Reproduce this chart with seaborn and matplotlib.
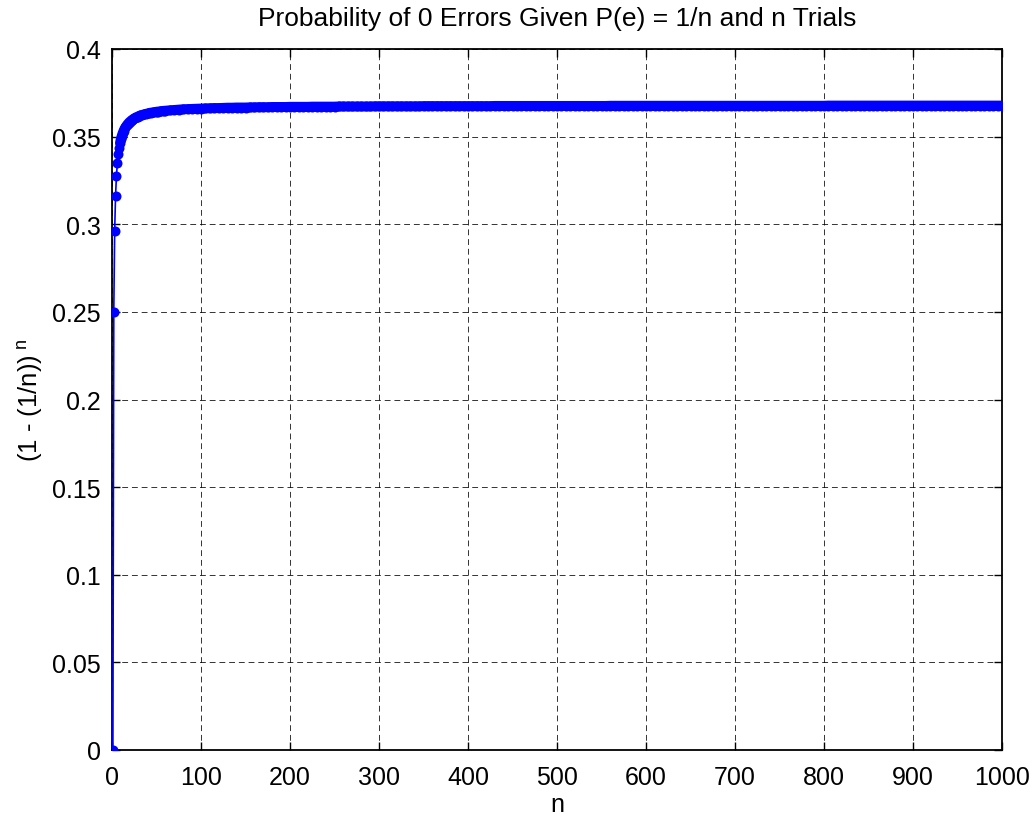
import matplotlib
matplotlib.use("Agg")
import matplotlib.pyplot as plt
import seaborn as sns
import pandas as pd

# ---- data ----
n_values = [
    1, 2, 3, 4, 5, 6, 7, 8, 9, 10, 11, 12, 13, 14, 15, 16, 17, 18, 19, 20,
    21, 22, 23, 24, 25, 26, 27, 28, 29, 30,
    32, 34, 36, 38, 40, 42, 44, 46, 48, 50, 52, 54, 56, 58, 60,
    65, 70, 75, 80, 85, 90, 95, 100, 105, 110, 115, 120, 125, 130, 135, 140, 145, 150, 155, 160,
    165, 170, 175, 180, 185, 190, 195, 200, 205, 210, 215, 220, 225, 230, 235, 240, 245, 250,
    255, 260, 265, 270, 275, 280, 285, 290, 295, 300, 305, 310, 315, 320, 325, 330, 335, 340, 345,
    350, 355, 360, 365, 370, 375, 380, 385, 390, 395, 400, 405, 410, 415, 420, 425,
    430, 435, 440, 445, 450, 455, 460, 465, 470, 475, 480, 485, 490, 495, 500, 505, 510, 515, 520,
    525, 530, 535, 540, 545, 550, 555,
    560, 565, 570, 575, 580, 585, 590, 595, 600, 605, 610, 615, 620, 625, 630, 635, 640, 645, 650,
    655, 660, 665, 670, 675, 680, 685, 690, 695, 700, 705, 710, 715, 720, 725, 730, 735, 740, 745,
    750, 755, 760, 765, 770, 775, 780, 785, 790, 795, 800,
    805, 810, 815, 820, 825, 830, 835, 840, 845, 850, 855, 860, 865, 870, 875, 880, 885, 890, 895,
    900, 905, 910, 915, 920, 925, 930, 935, 940, 945, 950, 955, 960, 965, 970, 975, 980, 985, 990,
    995, 1000,
]

p_zero_errors = [
    0.0000, 0.2500, 0.2963, 0.3164, 0.3277, 0.3349, 0.3399, 0.3436, 0.3464, 0.3487,
    0.3505, 0.3520, 0.3533, 0.3543, 0.3553, 0.3561, 0.3568, 0.3574, 0.3580, 0.3585,
    0.3589, 0.3594, 0.3597, 0.3601, 0.3604, 0.3607, 0.3610, 0.3612, 0.3614, 0.3617,
    0.3621, 0.3624, 0.3627, 0.3630, 0.3632, 0.3635, 0.3637, 0.3638, 0.3640, 0.3642,
    0.3643, 0.3644, 0.3646, 0.3647, 0.3648,
    0.3650, 0.3652, 0.3654, 0.3656, 0.3657, 0.3658, 0.3659, 0.3660, 0.3661, 0.3662,
    0.3663, 0.3663, 0.3664, 0.3665, 0.3665, 0.3666, 0.3666, 0.3666, 0.3667, 0.3667,
    0.3668, 0.3668, 0.3668, 0.3669, 0.3669, 0.3669, 0.3669,
    0.3670, 0.3670, 0.3670, 0.3670, 0.3670,
    0.3671, 0.3671, 0.3671, 0.3671, 0.3671, 0.3671,
    0.3672, 0.3672, 0.3672, 0.3672, 0.3672, 0.3672, 0.3672, 0.3672,
    0.3673, 0.3673, 0.3673, 0.3673, 0.3673, 0.3673, 0.3673, 0.3673, 0.3673, 0.3673, 0.3673,
    0.3674, 0.3674, 0.3674, 0.3674, 0.3674, 0.3674, 0.3674, 0.3674,
    0.3674, 0.3674, 0.3674, 0.3674, 0.3674, 0.3674, 0.3674, 0.3674,
    0.3675, 0.3675, 0.3675, 0.3675, 0.3675, 0.3675, 0.3675, 0.3675, 0.3675, 0.3675,
    0.3675, 0.3675, 0.3675, 0.3675, 0.3675, 0.3675, 0.3675, 0.3675, 0.3675, 0.3675,
    0.3675, 0.3675, 0.3675, 0.3675, 0.3675, 0.3675,
    0.3676, 0.3676, 0.3676, 0.3676, 0.3676, 0.3676, 0.3676, 0.3676, 0.3676, 0.3676,
    0.3676, 0.3676, 0.3676, 0.3676, 0.3676, 0.3676, 0.3676, 0.3676, 0.3676, 0.3676,
    0.3676, 0.3676, 0.3676, 0.3676, 0.3676, 0.3676, 0.3676, 0.3676, 0.3676, 0.3676,
    0.3676, 0.3676, 0.3676, 0.3676, 0.3676, 0.3676, 0.3676, 0.3676, 0.3676, 0.3676,
    0.3676, 0.3676, 0.3676, 0.3676, 0.3676, 0.3676, 0.3676, 0.3676, 0.3676,
    0.3677, 0.3677, 0.3677, 0.3677, 0.3677, 0.3677, 0.3677, 0.3677, 0.3677, 0.3677,
    0.3677, 0.3677, 0.3677, 0.3677, 0.3677, 0.3677, 0.3677, 0.3677, 0.3677, 0.3677,
    0.3677, 0.3677, 0.3677, 0.3677, 0.3677, 0.3677, 0.3677, 0.3677, 0.3677, 0.3677,
    0.3677, 0.3677, 0.3677, 0.3677, 0.3677, 0.3677, 0.3677, 0.3677, 0.3677, 0.3677,
]

x_ticks = [0, 100, 200, 300, 400, 500, 600, 700, 800, 900, 1000]
y_ticks = [0, 0.05, 0.1, 0.15, 0.2, 0.25, 0.3, 0.35, 0.4]
y_tick_labels = ["0", "0.05", "0.1", "0.15", "0.2", "0.25", "0.3", "0.35", "0.4"]

title_text = "Probability of 0 Errors Given P(e) = 1/n and n Trials"
x_label = "n"
y_label = r"(1 - (1/n))$^{\ \mathregular{n}}$"

df = pd.DataFrame({"n": n_values, "p": p_zero_errors})
dense = df[df["n"] >= 9]   # where the markers overlap into a solid band

# ---- style ----
sns.set_theme(style="white")
plt.rcParams["font.family"] = ["Liberation Sans", "DejaVu Sans"]
plt.rcParams["mathtext.fontset"] = "custom"
plt.rcParams["mathtext.rm"] = "Liberation Sans"
plt.rcParams["mathtext.it"] = "Liberation Sans"

fig = plt.figure(figsize=(10.34, 8.2), dpi=100)
ax = fig.add_axes([112 / 1034, 1 - 751 / 820, (1002 - 112) / 1034, (751 - 50) / 820])

# overlapping markers form a solid band in the original
sns.lineplot(data=dense, x="n", y="p", ax=ax, color="blue", linewidth=7.2,
             estimator=None, sort=False, zorder=3,
             solid_capstyle="round", solid_joinstyle="round")
sns.lineplot(data=df, x="n", y="p", ax=ax, color="blue", linewidth=1.2,
             marker="o", markersize=7.2, markeredgewidth=0, markerfacecolor="blue",
             estimator=None, sort=False, zorder=4)

ax.set_xlim(0, 1000)
ax.set_ylim(0, 0.4)
ax.set_xticks(x_ticks)
ax.set_xticklabels([str(t) for t in x_ticks])
ax.set_yticks(y_ticks)
ax.set_yticklabels(y_tick_labels)

ax.grid(True, color="black", linestyle=(0, (6, 4)), linewidth=0.7, alpha=0.8)
ax.set_axisbelow(True)

for side in ["top", "bottom", "left", "right"]:
    ax.spines[side].set_visible(True)
    ax.spines[side].set_color("black")
    ax.spines[side].set_linewidth(1.3)

ax.tick_params(axis="both", which="major", direction="in", length=6, width=1,
               color="black", labelsize=18, labelcolor="black",
               top=True, right=True, bottom=True, left=True)
ax.tick_params(axis="y", pad=8)
ax.tick_params(axis="x", pad=11)

ax.set_title(title_text, fontsize=19, color="black", pad=17)
ax.set_xlabel(x_label, fontsize=18, color="black", labelpad=2)
ax.set_ylabel(y_label, fontsize=18.5, color="black", labelpad=5)

fig.savefig("out.png", dpi=100, facecolor="white")
